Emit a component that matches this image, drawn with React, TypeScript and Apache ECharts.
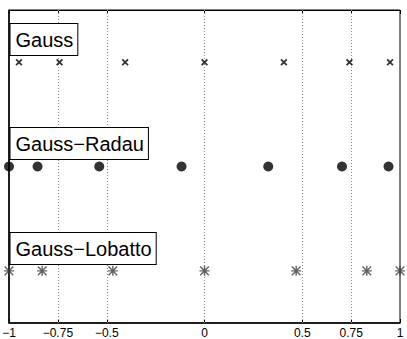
import React, { useEffect, useRef } from "react";
import * as echarts from "echarts";

const gaussNodes = [-0.949108, -0.741531, -0.405845, 0, 0.405845, 0.741531, 0.949108];
const radauNodes = [-1, -0.853891, -0.538295, -0.117343, 0.326039, 0.703315, 0.941367];
const lobattoNodes = [-1, -0.830224, -0.468849, 0, 0.468849, 0.830224, 1];
const rowLevels = { gauss: 5, radau: 3, lobatto: 1 };
const rowNames = ["Gauss", "Gauss\u2212Radau", "Gauss\u2212Lobatto"];
const tickValues = [-1, -0.75, -0.5, 0, 0.5, 0.75, 1];

const crossPath =
  "path://M1.8,0 L10,8.2 L8.2,10 L0,1.8 Z M8.2,0 L10,1.8 L1.8,10 L0,8.2 Z";
const starPath =
  "path://M0,4.3 H10 V5.7 H0 Z M4.3,0 H5.7 V10 H4.3 Z M1.2,0.2 L9.8,8.8 L8.8,9.8 L0.2,1.2 Z M8.8,0.2 L9.8,1.2 L1.2,9.8 L0.2,8.8 Z";

const fmt = (v: number) => String(v).replace("-", "\u2212");

export default function App() {
  const ref = useRef<HTMLDivElement>(null);
  useEffect(() => {
    if (!ref.current) return;
    const chart = echarts.init(ref.current, undefined, { renderer: "svg" });
    const font = "Liberation Sans, Arial, Helvetica, sans-serif";
    const labelBox = (text: string, top: number) => ({
      type: "text",
      left: 9.5,
      top,
      z: 100,
      style: {
        text,
        font: `20px ${font}`,
        fill: "#000",
        backgroundColor: "#fff",
        borderColor: "#000",
        borderWidth: 1,
        padding: [5, 4, 5, 5],
        lineHeight: 21,
      },
    });
    chart.setOption({
      animation: false,
      grid: {
        left: 9,
        right: 7,
        top: 10,
        bottom: 16,
        show: true,
        borderColor: "#000",
        borderWidth: 1,
        containLabel: false,
        outerBoundsMode: "none",
      },
      xAxis: [
        {
          type: "value",
          min: -1,
          max: 1,
          position: "bottom",
          axisLine: { show: true, onZero: false, lineStyle: { color: "#000", width: 1.5 } },
          axisTick: { show: true, inside: true, length: 4, customValues: tickValues, lineStyle: { color: "#000" } },
          axisLabel: {
            customValues: tickValues,
            formatter: fmt,
            color: "#000",
            fontSize: 12,
            lineHeight: 12,
            fontFamily: font,
            margin: 4,
            showMinLabel: true,
            showMaxLabel: true,
          },
          splitLine: { show: false },
        },
        {
          type: "value",
          min: -1,
          max: 1,
          position: "top",
          axisLine: { show: true, onZero: false, lineStyle: { color: "#000", width: 1 } },
          axisTick: { show: true, inside: true, length: 4, customValues: tickValues, lineStyle: { color: "#000" } },
          axisLabel: { show: false },
          splitLine: { show: false },
        },
      ],
      yAxis: {
        type: "value",
        min: 0,
        max: 6,
        axisLine: { show: true, onZero: false, lineStyle: { color: "#000", width: 1.5 } },
        axisTick: { show: false },
        axisLabel: { show: false },
        splitLine: { show: false },
      },
      graphic: [
        labelBox(rowNames[0], 23),
        labelBox(rowNames[1], 127),
        labelBox(rowNames[2], 232),
      ],
      series: [
        {
          type: "line",
          data: [],
          silent: true,
          markLine: {
            silent: true,
            symbol: "none",
            label: { show: false },
            lineStyle: { color: "#8a8a8a", type: [1, 2], width: 1 },
            data: tickValues.slice(1, -1).map((v) => ({ xAxis: v })),
          },
        },
        {
          type: "scatter",
          name: rowNames[0],
          symbol: crossPath,
          symbolSize: 7,
          itemStyle: { color: "#000" },
          data: gaussNodes.map((x) => [x, rowLevels.gauss]),
          z: 10,
        },
        {
          type: "scatter",
          name: rowNames[1],
          symbol: "circle",
          symbolSize: 10,
          itemStyle: { color: "#000" },
          data: radauNodes.map((x) => [x, rowLevels.radau]),
          z: 10,
        },
        {
          type: "scatter",
          name: rowNames[2],
          symbol: starPath,
          symbolSize: 10,
          itemStyle: { color: "#3c3c3c" },
          data: lobattoNodes.map((x) => [x, rowLevels.lobatto]),
          z: 10,
        },
      ],
    });
    return () => chart.dispose();
  }, []);
  return <div ref={ref} style={{ width: 407, height: 339, position: "absolute", left: 0, top: 0 }} />;
}
